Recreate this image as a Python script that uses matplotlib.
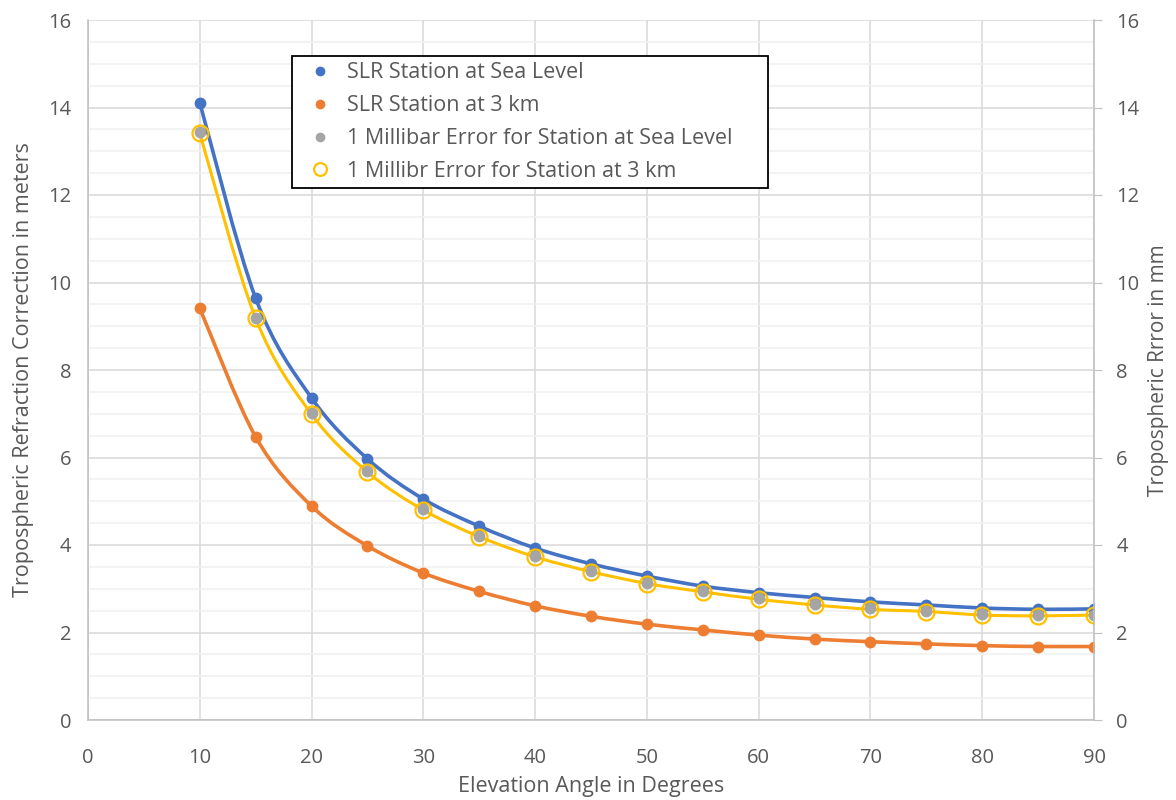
import numpy as np
import matplotlib
matplotlib.use("Agg")
import matplotlib.pyplot as plt
from matplotlib.path import Path
from matplotlib.patches import PathPatch

plt.rcParams['font.family'] = ['Open Sans', 'DejaVu Sans']

elevation = [10, 15, 20, 25, 30, 35, 40, 45, 50, 55, 60, 65, 70, 75, 80, 85, 90]
sea_level = [14.11, 9.64, 7.36, 5.97, 5.05, 4.43, 3.93, 3.57, 3.29, 3.06, 2.91, 2.80, 2.70, 2.63, 2.56, 2.53, 2.54]
at_3km = [9.41, 6.47, 4.89, 3.98, 3.36, 2.94, 2.61, 2.37, 2.19, 2.06, 1.94, 1.85, 1.79, 1.74, 1.70, 1.68, 1.68]
err_sea = [13.43, 9.20, 7.02, 5.70, 4.82, 4.21, 3.75, 3.41, 3.14, 2.95, 2.78, 2.65, 2.55, 2.50, 2.43, 2.40, 2.39]
err_3km = [13.41, 9.18, 6.99, 5.67, 4.80, 4.19, 3.73, 3.39, 3.12, 2.93, 2.76, 2.63, 2.53, 2.48, 2.40, 2.38, 2.40]

x_ticks = list(range(0, 91, 10))
y_ticks = list(range(0, 17, 2))

BLUE = '#4472C4'
ORANGE = '#ED7D31'
GRAY = '#A5A5A5'
YELLOW = '#FFC000'
TXT = '#595959'


def smooth_path(xs, ys):
    xs = np.asarray(xs, float)
    ys = np.asarray(ys, float)
    n = len(xs)
    verts = [(xs[0], ys[0])]
    codes = [Path.MOVETO]
    for i in range(n - 1):
        p0 = (xs[i - 1], ys[i - 1]) if i > 0 else (xs[i], ys[i])
        p1 = (xs[i], ys[i])
        p2 = (xs[i + 1], ys[i + 1])
        p3 = (xs[i + 2], ys[i + 2]) if i + 2 < n else (xs[i + 1], ys[i + 1])
        c1 = (p1[0] + (p2[0] - p0[0]) / 6, p1[1] + (p2[1] - p0[1]) / 6)
        c2 = (p2[0] - (p3[0] - p1[0]) / 6, p2[1] - (p3[1] - p1[1]) / 6)
        verts += [c1, c2, p2]
        codes += [Path.CURVE4] * 3
    return Path(verts, codes)


fig = plt.figure(figsize=(11.76, 8), dpi=100)
ax = fig.add_axes([88 / 1176, 80 / 800, 1006 / 1176, 700 / 800])

ax.set_xlim(0, 90)
ax.set_ylim(0, 16)
ax.set_xticks(x_ticks)
ax.set_yticks(y_ticks)
ax.set_yticks(np.arange(0, 16.01, 0.5), minor=True)
ax.grid(True, which='major', color='#D9D9D9', lw=1.1, zorder=0)
ax.grid(True, which='minor', axis='y', color='#F0F0F0', lw=1.1, zorder=0)
ax.set_axisbelow(True)
for s in ['top', 'right']:
    ax.spines[s].set_visible(False)
for s in ['left', 'bottom']:
    ax.spines[s].set_color('#BFBFBF')
    ax.spines[s].set_linewidth(1.1)
ax.tick_params(axis='both', which='both', length=0, labelsize=14.5, labelcolor=TXT, pad=12)
ax.tick_params(axis='x', pad=20)

for ys, col, lw in [(sea_level, BLUE, 2.6), (err_3km, YELLOW, 2.2), (at_3km, ORANGE, 2.6)]:
    ax.add_patch(PathPatch(smooth_path(elevation, ys), fill=False, edgecolor=col, lw=lw, zorder=2))

ax.plot(elevation, sea_level, 'o', color=BLUE, ms=7.5, zorder=3, label='SLR Station at Sea Level')
ax.plot(elevation, at_3km, 'o', color=ORANGE, ms=7.5, zorder=3, label='SLR Station at 3 km')
ax.plot(elevation, err_sea, 'o', color=GRAY, ms=7.5, zorder=4, label='1 Millibar Error for Station at Sea Level')
ax.plot(elevation, err_3km, 'o', mfc='none', mec=YELLOW, mew=1.6, ms=11.5, zorder=5,
        label='1 Millibr Error for Station at 3 km')

ax.set_xlabel('Elevation Angle in Degrees', fontsize=15.5, color=TXT, labelpad=6)
ax.set_ylabel('Tropospheric Refraction Correction in meters', fontsize=15.5, color=TXT, labelpad=10)

ax2 = ax.twinx()
ax2.set_ylim(0, 16)
ax2.set_yticks(y_ticks)
for s in ['top', 'left', 'bottom']:
    ax2.spines[s].set_visible(False)
ax2.spines['right'].set_color('#BFBFBF')
ax2.spines['right'].set_linewidth(1.1)
ax2.tick_params(axis='y', length=6, color='#BFBFBF', labelsize=14.5, labelcolor=TXT, pad=10)
ax2.set_ylabel('Tropospheric Rrror in mm', fontsize=15, color=TXT, labelpad=6)

handles, labels = ax.get_legend_handles_labels()
leg_x0 = (292 - 88) / 1006
leg_w = (768 - 292) / 1006
leg_top = (720 - 56) / 700
leg = ax.legend(handles, labels, loc='upper left', bbox_to_anchor=(leg_x0, 0.3, leg_w, leg_top - 0.3),
                mode='expand', borderaxespad=0,
                fontsize=15.5, frameon=True, fancybox=False, borderpad=0.3, labelspacing=0.55,
                handletextpad=0.25, handlelength=2.0, markerscale=0.8)
leg.get_frame().set_edgecolor('black')
leg.get_frame().set_linewidth(1.3)
leg.get_frame().set_alpha(1)
for t in leg.get_texts():
    t.set_color(TXT)
leg.set_zorder(10)

fig.savefig('out.png', dpi=100)
